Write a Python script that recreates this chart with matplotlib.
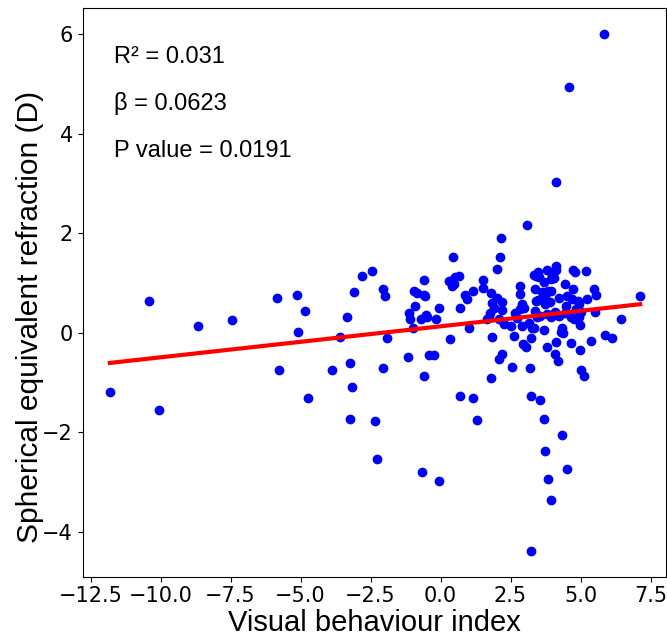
import numpy as np
import matplotlib
matplotlib.use("Agg")
import matplotlib.pyplot as plt

# visual behaviour index (x) and spherical equivalent refraction (y)
vbi = [-10.41, -11.81, -10.04, -8.67, -7.46, -5.85, -5.14, -5.09, -5.76,
       -4.83, -4.72, -2.79, -2.46, -3.08, -2.07, -1.97, -3.33, -3.60, -1.92, -3.86,
       -3.22, -2.05, -3.15, -3.24, -2.34, -2.28, -0.66, -0.06, -1.16, -0.60, -0.41,
       -0.22, 0.33, 0.71, 1.16, 1.31, 1.03, 0.70, 0.89, 0.94, 1.17, 0.44, 0.31,
       0.46, 0.53, 0.65, 0.41, 0.48, -0.59, -0.96, -0.83, -0.59, -0.54, -0.92,
       -1.13, -1.09, -0.69, -0.52, -0.49, -0.06, -0.15, -0.97,
       4.14, 3.10, 2.15, 2.11, 2.01, 1.52, 1.52, 1.80, 2.03, 2.21, 1.83, 1.92,
       1.78, 1.72, 1.65, 2.19, 2.10, 2.28, 2.51, 1.83, 2.61, 2.08, 2.20, 1.80,
       2.56, 3.19, 2.83, 2.83, 2.67, 2.91, 2.99, 2.84, 2.74, 2.90, 3.17, 3.26,
       3.35, 3.46, 2.94, 3.05, 3.22, 3.33, 3.47, 3.53, 3.41, 3.80, 4.11, 4.14,
       3.99, 3.95, 4.06, 3.70, 3.38, 3.63, 3.85, 3.96, 3.74, 3.41, 3.48, 4.22,
       3.91, 3.72, 4.44, 4.72, 4.79, 5.21, 4.72, 4.51, 4.69, 4.91, 4.96, 5.23,
       4.49, 5.49, 5.56, 7.13, 3.39, 3.54, 3.79, 3.95, 4.09, 4.24, 4.46, 4.67,
       4.76, 4.96, 4.84, 5.01, 5.51, 6.44, 3.69, 4.35, 4.36, 4.31, 4.97, 5.86,
       6.13, 5.38, 4.13, 4.65, 3.79, 4.10, 4.19, 4.98, 5.02, 5.14,
       3.23, 3.54, 3.69, 4.34, 3.73, 4.52, 3.83, 3.95, 3.23,
       5.84, 4.59]
ser = [0.63, -1.18, -1.56, 0.13, 0.25, 0.69, 0.76, 0.02, -0.75,
       0.44, -1.31, 1.15, 1.24, 0.82, 0.88, 0.74, 0.32, -0.08, -0.10, -0.74,
       -0.60, -0.70, -1.08, -1.74, -1.77, -2.54, -2.80, -2.97, -0.48, -0.87, -0.44,
       -0.44, -0.13, -1.27, -1.31, -1.76, 0.09, 0.50, 0.76, 0.68, 0.84, 1.52, 1.04,
       1.07, 1.12, 1.15, 0.94, 0.99, 1.06, 0.84, 0.79, 0.76, 0.74, 0.54,
       0.40, 0.28, 0.28, 0.36, 0.32, 0.50, 0.27, 0.10,
       3.03, 2.17, 1.91, 1.52, 1.28, 1.07, 0.90, 0.80, 0.69, 0.61, 0.59, 0.50,
       0.39, 0.32, 0.27, 0.45, 0.27, 0.17, 0.13, -0.09, -0.06, -0.52, -0.43, -0.90,
       -0.68, -0.70, 0.94, 0.78, 0.39, 0.57, 0.49, 0.47, 0.30, 0.13, 0.20, 0.09,
       0.09, 0.32, -0.22, -0.28, -0.10, 1.17, 1.22, 1.12, 1.15, 1.27, 1.34, 1.26,
       1.16, 1.09, 1.10, 1.02, 0.87, 0.81, 0.84, 0.84, 0.72, 0.64, 0.65, 0.69,
       0.61, 0.57, 0.99, 1.27, 1.22, 1.24, 0.88, 0.74, 0.68, 0.64, 0.57, 0.68,
       0.54, 0.88, 0.76, 0.74, 0.43, 0.33, 0.37, 0.32, 0.42, 0.34, 0.39, 0.32,
       0.27, 0.32, 0.47, 0.42, 0.41, 0.28, 0.05, 0.09, -0.01, 0.02, 0.15, -0.05,
       -0.10, -0.17, -0.19, -0.20, -0.29, -0.42, -0.56, -0.34, -0.74, -0.87,
       -1.27, -1.35, -1.74, -2.06, -2.37, -2.74, -2.93, -3.37, -4.39,
       6.00, 4.93]

beta = 0.0623
intercept = 0.13
stats = ["R\u00b2 = 0.031", "\u03b2 = 0.0623", "P value = 0.0191"]

fig = plt.figure(figsize=(6.67, 6.4), dpi=100)
ax = fig.add_axes([0.124, 0.099, 0.874, 0.888])

ax.scatter(vbi, ser, color='blue', s=36, zorder=2)
xs = np.array([min(vbi), max(vbi)])
ax.plot(xs, intercept + beta * xs, color='red', lw=3, zorder=3)

ax.set_xlim(-12.78, 8.04)
ax.set_ylim(-4.9, 6.52)
ax.set_xticks([-12.5, -10, -7.5, -5, -2.5, 0, 2.5, 5, 7.5])
ax.set_yticks([-4, -2, 0, 2, 4, 6])
ax.tick_params(labelsize=15)

ax.set_xlabel("Visual behaviour index", labelpad=2, family='Liberation Sans', fontsize=21)
ax.set_ylabel("Spherical equivalent refraction (D)", family='Liberation Sans', fontsize=21.5)
ax.yaxis.set_label_coords(-0.066, 0.457)

for i, t in enumerate(stats):
    ax.text(0.054, 0.903 - i * 0.0825, t, transform=ax.transAxes,
            family='Liberation Sans', fontsize=17, va='baseline')

fig.savefig("out.png", dpi=100)
